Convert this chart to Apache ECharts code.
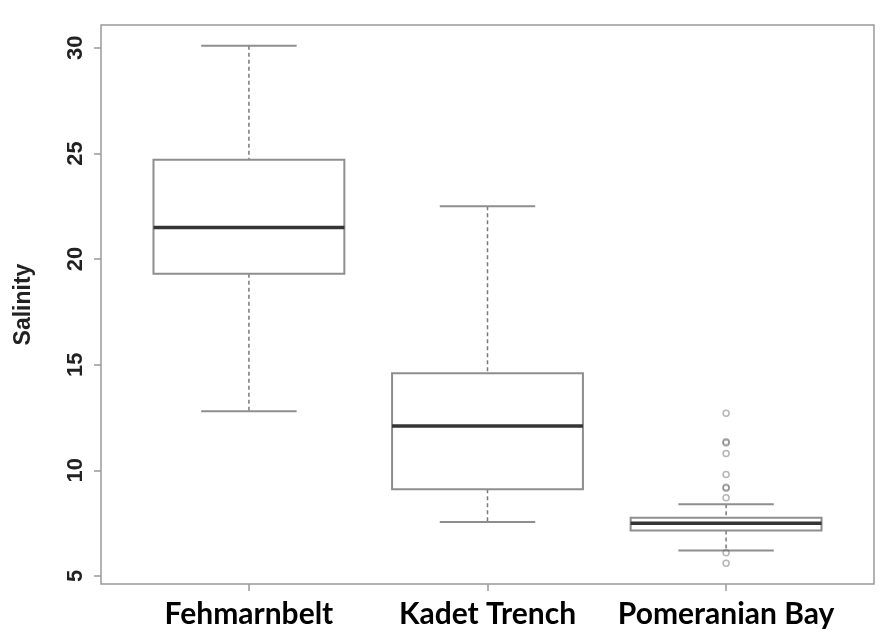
<!DOCTYPE html>
<html><head><meta charset="utf-8">
<script src="https://cdn.jsdelivr.net/npm/echarts@6/dist/echarts.min.js"></script>
<style>html,body{margin:0;padding:0;background:#fff}#c{width:883px;height:638px}</style>
</head><body><div id="c"></div>
<script>
var categories = ['Fehmarnbelt', 'Kadet Trench', 'Pomeranian Bay'];
var whiskerLow = [12.8, 7.55, 6.2];
var q1 = [19.3, 9.1, 7.15];
var median = [21.5, 12.1, 7.5];
var q3 = [24.7, 14.6, 7.75];
var whiskerHigh = [30.1, 22.5, 8.4];
var outlierValues = [12.7, 11.35, 11.3, 10.8, 9.8, 9.2, 9.15, 8.7, 6.1, 5.6];
var outlierCategoryIndex = 2;
var yTicks = [5, 10, 15, 20, 25, 30];

var xPositions = categories.map(function (c, i) { return i + 1; });
var boxData = categories.map(function (c, i) {
  return [i + 1, whiskerLow[i], q1[i], median[i], q3[i], whiskerHigh[i]];
});
var outlierData = outlierValues.map(function (v) { return [outlierCategoryIndex + 1, v]; });

var GRAY = '#8e8e8e';

function renderBox(params, api) {
  var x = api.value(0);
  var pLow = api.coord([x, api.value(1)]);
  var pQ1 = api.coord([x, api.value(2)]);
  var pMed = api.coord([x, api.value(3)]);
  var pQ3 = api.coord([x, api.value(4)]);
  var pHigh = api.coord([x, api.value(5)]);
  var boxW = api.size([0.8, 0])[0];
  var capW = api.size([0.4, 0])[0];
  var cx = pMed[0];
  var dash = { stroke: '#7a7a7a', lineWidth: 1.5, lineDash: [4, 3] };
  var solid = { stroke: GRAY, lineWidth: 2 };
  return {
    type: 'group',
    children: [
      { type: 'line', shape: { x1: cx, y1: pHigh[1], x2: cx, y2: pQ3[1] }, style: dash },
      { type: 'line', shape: { x1: cx, y1: pQ1[1], x2: cx, y2: pLow[1] }, style: dash },
      { type: 'line', shape: { x1: cx - capW / 2, y1: pHigh[1], x2: cx + capW / 2, y2: pHigh[1] }, style: solid },
      { type: 'line', shape: { x1: cx - capW / 2, y1: pLow[1], x2: cx + capW / 2, y2: pLow[1] }, style: solid },
      { type: 'rect', shape: { x: cx - boxW / 2, y: pQ3[1], width: boxW, height: pQ1[1] - pQ3[1] },
        style: { fill: '#fff', stroke: GRAY, lineWidth: 2 } },
      { type: 'line', shape: { x1: cx - boxW / 2, y1: pMed[1], x2: cx + boxW / 2, y2: pMed[1] },
        style: { stroke: '#353535', lineWidth: 3.5 } }
    ]
  };
}

var chart = echarts.init(document.getElementById('c'), null, { renderer: 'canvas' });
chart.setOption({
  animation: false,
  backgroundColor: '#fff',
  grid: { left: 101, right: 9, top: 25, bottom: 54, show: true, borderColor: '#999', borderWidth: 1.5, backgroundColor: 'transparent' },
  xAxis: {
    type: 'value', min: 0.38, max: 3.62,
    splitLine: { show: false },
    axisLine: { show: false },
    axisTick: { show: true, customValues: xPositions, length: 7, lineStyle: { color: '#999', width: 1.5 } },
    axisLabel: {
      customValues: xPositions,
      formatter: function (v) { return categories[Math.round(v) - 1]; },
      fontFamily: 'Lato', fontWeight: 'bold', fontSize: 30, color: '#000', margin: 15
    }
  },
  yAxis: {
    type: 'value', min: 4.62, max: 31.08,
    splitLine: { show: false },
    axisLine: { show: false },
    axisTick: { show: true, customValues: yTicks, length: 7, lineStyle: { color: '#999', width: 1.5 } },
    axisLabel: {
      customValues: yTicks, rotate: 90,
      fontFamily: 'Liberation Sans', fontWeight: 'bold', fontSize: 22, color: '#222', margin: 14
    },
    name: 'Salinity', nameLocation: 'middle', nameRotate: 90, nameGap: 66,
    nameTextStyle: { fontFamily: 'Liberation Sans', fontWeight: 'bold', fontSize: 23, color: '#222' }
  },
  series: [
    {
      type: 'custom', renderItem: renderBox, data: boxData,
      encode: { x: 0, y: [1, 2, 3, 4, 5] }, z: 2
    },
    {
      type: 'scatter', data: outlierData, symbol: 'circle', symbolSize: 6, z: 3,
      itemStyle: { color: 'rgba(255,255,255,0)', borderColor: 'rgba(90,90,90,0.55)', borderWidth: 1.6 }
    }
  ]
});
</script>
</body></html>
